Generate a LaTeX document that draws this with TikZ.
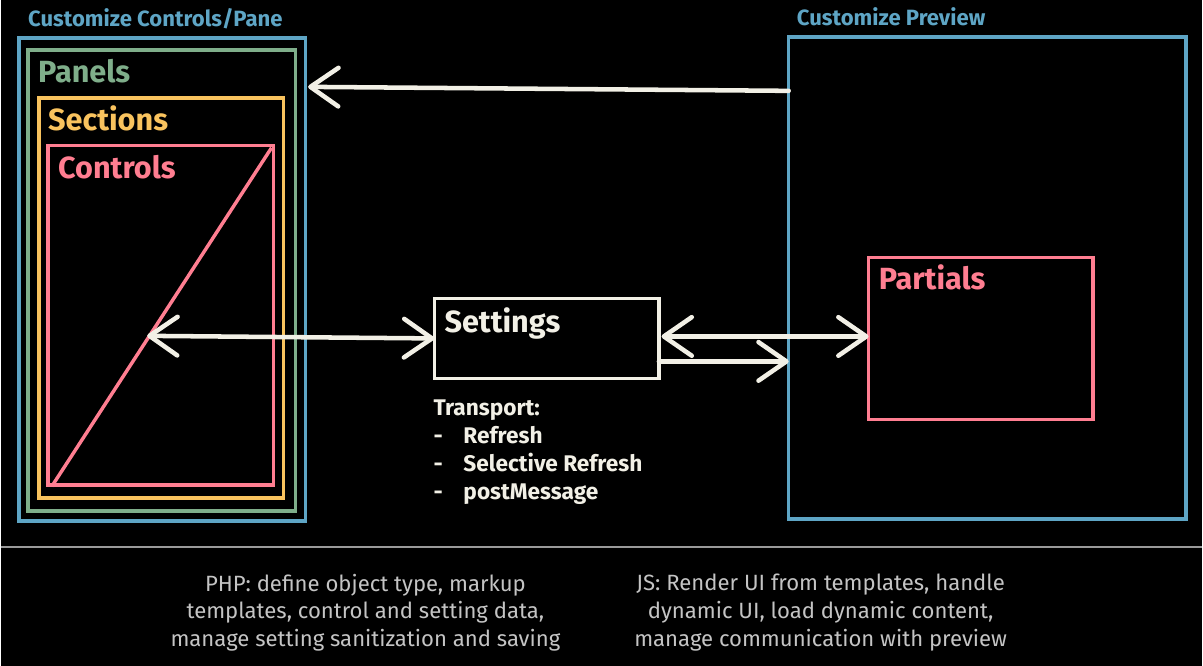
\documentclass[tikz,border=0pt]{standalone}
\usepackage{fontspec}
\setmainfont{Fira Sans}
\usetikzlibrary{arrows.meta,calc}

\definecolor{paneblue}{HTML}{5EA5C5}
\definecolor{panelgreen}{HTML}{7FAE8A}
\definecolor{sectionyellow}{HTML}{F9C35E}
\definecolor{controlpink}{HTML}{FF7E91}
\definecolor{cream}{HTML}{F2F0E6}
\definecolor{notegray}{HTML}{C4C4C4}
\definecolor{rulegray}{HTML}{9A9A9A}

\begin{document}
\begin{tikzpicture}[
        x=0.75pt, y=-0.75pt,
        frame/.style={draw=#1, line width=2.6pt, outer sep=0pt, inner sep=0pt, anchor=north west},
        heading/.style={text=#1, font=\bfseries\fontsize{16.6}{20}\selectfont, anchor=base west, inner sep=0pt},
        boxlabel/.style={text=#1, font=\bfseries\fontsize{23}{27}\selectfont, anchor=base west, inner sep=0pt},
        link/.style={draw=cream, line width=3.4pt, line cap=round},
        oneway/.style={link, -{Straight Barb[length=21pt, width=29pt, round]}},
        twoway/.style={link, {Straight Barb[length=21pt, width=29pt, round]}-{Straight Barb[length=21pt, width=29pt, round]}},
        note/.style={text=notegray, font=\fontsize{16.6}{21}\selectfont, align=center, anchor=north}
    ]

        \fill[black] (0,0) rectangle (1203,667);

        \node[frame=paneblue, minimum width=215.25pt, minimum height=363pt] (pane) at (18,38) {};
        \node[frame=panelgreen, minimum width=201pt, minimum height=346.5pt] (panels) at (27,50) {};
        \node[frame=sectionyellow, minimum width=183.75pt, minimum height=300.75pt] (sections) at (38,98) {};
        \node[frame=controlpink, minimum width=169.5pt, minimum height=255pt] (controls) at (47,146) {};
        \draw[controlpink, line width=2.6pt] ([shift={(3pt,-0.75pt)}]controls.south west) -- ([shift={(-1.5pt,-1.5pt)}]controls.north east);

        \node[heading=paneblue] (panetitle) at (27,27) {Customize Controls/Pane};
        \node[boxlabel=panelgreen] (panelslabel) at (37,83) {Panels};
        \node[boxlabel=sectionyellow] (sectionslabel) at (47,131) {Sections};
        \node[boxlabel=controlpink] (controlslabel) at (57,179) {Controls};

        \node[frame=paneblue, minimum width=298.5pt, minimum height=362.25pt] (preview) at (789,37) {};
        \node[heading=paneblue] (previewtitle) at (797,26) {Customize Preview};
        \node[frame=controlpink, minimum width=168.75pt, minimum height=121.5pt] (partials) at (869,258) {};
        \node[boxlabel=controlpink] (partialslabel) at (879,290) {Partials};

        \node[frame=cream, minimum width=168.75pt, minimum height=60pt] (settings) at (434,299) {};
        \node[boxlabel=cream] (settingslabel) at (444,333) {Settings};

        \node[text=cream, font=\bfseries\fontsize{17}{21}\selectfont, align=left, anchor=north west, inner sep=0pt] (transport) at (433,400)
            {Transport:\\\makebox[22.5pt][l]{-}Refresh\\\makebox[22.5pt][l]{-}Selective Refresh\\\makebox[22.5pt][l]{-}postMessage};

        \coordinate (ctrlhit) at ($(controls.south west)!0.44!(controls.north east)$);
        \coordinate (sendout) at ([yshift=-17.25pt]settings.east);

        \draw[oneway] ([yshift=-40.5pt]preview.north west) -- ([shift={(2pt,-36.75pt)}]pane.north east);
        \draw[twoway] (ctrlhit) -- (settings.west);
        \draw[twoway] ([shift={(2pt,1.5pt)}]settings.east) -- ([yshift=1.5pt]partials.west);
        \draw[oneway] (sendout) -- (sendout -| preview.west);

        \draw[rulegray, line width=1.5pt] (0,548) -- (1203,548);

        \node[note] (phpnote) at (365,570) {PHP: define object type, markup\\templates, control and setting data,\\manage setting sanitization and saving};
        \node[note] (jsnote) at (821,570) {JS: Render UI from templates, handle\\dynamic UI, load dynamic content,\\manage communication with preview};
    \end{tikzpicture}
\end{document}
